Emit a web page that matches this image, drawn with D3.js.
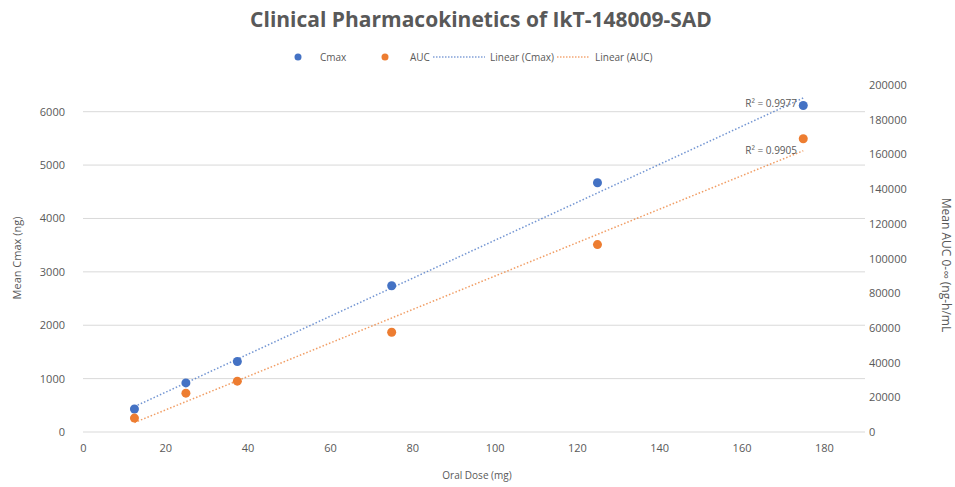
<!DOCTYPE html>
<html>
<head>
<meta charset="utf-8">
<script src="https://cdn.jsdelivr.net/npm/d3@7"></script>
<style>
  body { margin: 0; background: #fff; }
  text { font-family: "Open Sans", "Liberation Sans", sans-serif; fill: #595959; }
</style>
</head>
<body>
<div id="chart"></div>
<script>
const doses = [12.5, 25, 37.5, 75, 125, 175];
const cmax = [430, 920, 1320, 2740, 4670, 6115];
const auc = [8000, 22400, 29300, 57500, 108000, 169000];
const xTicks = [0, 20, 40, 60, 80, 100, 120, 140, 160, 180];
const leftTicks = [0, 1000, 2000, 3000, 4000, 5000, 6000];
const rightTicks = [0, 20000, 40000, 60000, 80000, 100000, 120000, 140000, 160000, 180000, 200000];
const r2Labels = ["R² = 0.9977", "R² = 0.9905"];

const width = 955;
const height = 487;
const margin = { top: 85, bottom: 55, left: 83, right: 90 };

const blue = "#4472c4";
const orange = "#ed7d31";

const svg = d3.select("#chart")
    .append("svg")
    .attr("width", width)
    .attr("height", height);

const x = d3.scaleLinear()
    .domain([0, 190])
    .range([margin.left, width - margin.right]);

const yL = d3.scaleLinear()
    .domain([0, 6500])
    .range([height - margin.bottom, margin.top]);

const yR = d3.scaleLinear()
    .domain([0, 200000])
    .range([height - margin.bottom, margin.top]);

// gridlines
svg.append("g")
    .selectAll("line")
    .data(leftTicks)
    .join("line")
    .attr("x1", x(0))
    .attr("x2", x(190))
    .attr("y1", d => yL(d))
    .attr("y2", d => yL(d))
    .attr("stroke", "#d9d9d9")
    .attr("stroke-width", 1);

function axisStyle(g) {
    g.select(".domain").remove();
    g.selectAll(".tick line").remove();
    g.selectAll("text").attr("font-size", "11px").attr("fill", "#595959");
}

const fmt = d3.format("d");

svg.append("g")
    .attr("transform", `translate(0,${height - margin.bottom + 4})`)
    .call(d3.axisBottom(x).tickValues(xTicks).tickFormat(fmt).tickSize(0).tickPadding(8))
    .call(axisStyle);

svg.append("g")
    .attr("transform", `translate(${margin.left - 10},0)`)
    .call(d3.axisLeft(yL).tickValues(leftTicks).tickFormat(fmt).tickSize(0).tickPadding(8))
    .call(axisStyle);

svg.append("g")
    .attr("transform", `translate(${width - margin.right - 4},0)`)
    .call(d3.axisRight(yR).tickValues(rightTicks).tickFormat(fmt).tickSize(0).tickPadding(8))
    .call(axisStyle);

// linear trendlines computed from the data
function fit(xs, ys) {
    const mx = d3.mean(xs), my = d3.mean(ys);
    const b = d3.sum(xs, (v, i) => (v - mx) * (ys[i] - my)) / d3.sum(xs, v => (v - mx) ** 2);
    return { b, a: my - b * mx };
}
const xMin = d3.min(doses), xMax = d3.max(doses);

[[cmax, yL, blue], [auc, yR, orange]].forEach(([vals, y, color]) => {
    const f = fit(doses, vals);
    svg.append("line")
        .attr("x1", x(xMin)).attr("y1", y(f.a + f.b * xMin))
        .attr("x2", x(xMax)).attr("y2", y(f.a + f.b * xMax))
        .attr("stroke", color)
        .attr("stroke-width", 1.5)
        .attr("stroke-dasharray", "1.5,2")
        .attr("opacity", 0.75);
});

// points
svg.append("g")
    .attr("fill", blue)
    .selectAll("circle")
    .data(doses)
    .join("circle")
    .attr("cx", d => x(d))
    .attr("cy", (d, i) => yL(cmax[i]))
    .attr("r", 4.5);

svg.append("g")
    .attr("fill", orange)
    .selectAll("circle")
    .data(doses)
    .join("circle")
    .attr("cx", d => x(d))
    .attr("cy", (d, i) => yR(auc[i]))
    .attr("r", 4.5);

// R² labels
svg.append("text")
    .attr("x", 797).attr("y", 107)
    .attr("text-anchor", "end")
    .attr("font-size", "10px")
    .text(r2Labels[0]);
svg.append("text")
    .attr("x", 797).attr("y", 154)
    .attr("text-anchor", "end")
    .attr("font-size", "10px")
    .text(r2Labels[1]);

// title
svg.append("text")
    .attr("x", 481).attr("y", 27)
    .attr("text-anchor", "middle")
    .attr("font-size", "21px")
    .attr("font-weight", "bold")
    .text("Clinical Pharmacokinetics of IkT-148009-SAD");

// legend
const legend = svg.append("g").attr("font-size", "10px");
legend.append("circle").attr("cx", 298).attr("cy", 57).attr("r", 3.5).attr("fill", blue);
legend.append("text").attr("x", 320).attr("y", 61).text("Cmax");
legend.append("circle").attr("cx", 385).attr("cy", 57).attr("r", 3.5).attr("fill", orange);
legend.append("text").attr("x", 410).attr("y", 61).text("AUC");
legend.append("line").attr("x1", 433).attr("x2", 485).attr("y1", 57).attr("y2", 57)
    .attr("stroke", blue).attr("stroke-width", 1.2).attr("stroke-dasharray", "1.5,1.5");
legend.append("text").attr("x", 490).attr("y", 61).text("Linear (Cmax)");
legend.append("line").attr("x1", 557).attr("x2", 590).attr("y1", 57).attr("y2", 57)
    .attr("stroke", orange).attr("stroke-width", 1.2).attr("stroke-dasharray", "1.5,1.5");
legend.append("text").attr("x", 595).attr("y", 61).text("Linear (AUC)");

// axis titles
svg.append("text")
    .attr("x", 477).attr("y", 479)
    .attr("text-anchor", "middle")
    .attr("font-size", "10px")
    .text("Oral Dose (mg)");

svg.append("text")
    .attr("transform", "translate(21,258) rotate(-90)")
    .attr("text-anchor", "middle")
    .attr("font-size", "11px")
    .text("Mean Cmax (ng)");

svg.append("text")
    .attr("transform", "translate(942,265) rotate(90)")
    .attr("text-anchor", "middle")
    .attr("font-size", "12px")
    .text("Mean AUC 0-∞ (ng-h/mL");
</script>
</body>
</html>
